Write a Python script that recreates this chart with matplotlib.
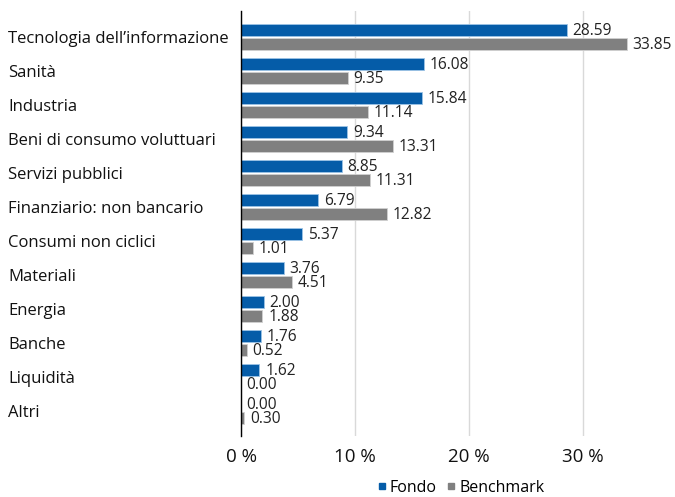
import matplotlib
matplotlib.use("Agg")
import matplotlib.pyplot as plt
from matplotlib.lines import Line2D
import numpy as np

categories = ["Tecnologia dell\u2019informazione", "Sanità", "Industria",
              "Beni di consumo voluttuari", "Servizi pubblici",
              "Finanziario: non bancario", "Consumi non ciclici", "Materiali",
              "Energia", "Banche", "Liquidità", "Altri"]
fondo = [28.59, 16.08, 15.84, 9.34, 8.85, 6.79, 5.37, 3.76, 2.00, 1.76, 1.62, 0.00]
benchmark = [33.85, 9.35, 11.14, 13.31, 11.31, 12.82, 1.01, 4.51, 1.88, 0.52, 0.00, 0.30]
xticks = [0, 10, 20, 30]
xticklabels = ["0 %", "10 %", "20 %", "30 %"]

plt.rcParams['font.family'] = ['Open Sans', 'DejaVu Sans']
blue = "#055ca8"
gray = "#808080"

W, H = 675, 497
fig = plt.figure(figsize=(6.75, 4.97), dpi=100)
ax = fig.add_axes([241 / W, 1 - 436 / H, (640 - 241) / W, (436 - 11) / H])

y = np.arange(len(categories))
h = 0.37
off = 0.21
ax.barh(y - off, fondo, height=h, color=blue, edgecolor="#9cc3e6", linewidth=0.6, zorder=3)
ax.barh(y + off, benchmark, height=h, color=gray, edgecolor="#d0d0d0", linewidth=0.6, zorder=3)

for yi, v in zip(y, fondo):
    ax.text(v + 0.5, yi - off + 0.02, f"{v:.2f}", va="center", ha="left", fontsize=11.2, color="#222222")
for yi, v in zip(y, benchmark):
    ax.text(v + 0.5, yi + off + 0.03, f"{v:.2f}", va="center", ha="left", fontsize=11.2, color="#222222")

ax.set_ylim(11.735, -0.765)
ax.set_xlim(0, 35)
ax.set_yticks(y)
ax.set_yticklabels(categories, fontsize=12, color="#111111")
for lab in ax.get_yticklabels():
    lab.set_horizontalalignment("left")
ax.set_xticks(xticks)
ax.set_xticklabels(xticklabels, fontsize=13.5, color="#111111")
ax.tick_params(axis="both", length=0)
ax.tick_params(axis="y", pad=(241 - 8) * 0.72)
ax.tick_params(axis="x", pad=9)
ax.grid(axis="x", color="#d9d9d9", linewidth=1, zorder=0)
ax.set_axisbelow(True)
for s in ["top", "right", "bottom"]:
    ax.spines[s].set_visible(False)
ax.spines["left"].set_color("#000000")
ax.spines["left"].set_linewidth(1)
ax.spines["left"].set_zorder(4)

handles = [Line2D([], [], marker="s", linestyle="", color=blue, markersize=4),
           Line2D([], [], marker="s", linestyle="", color=gray, markersize=4)]
fig.legend(handles, ["Fondo", "Benchmark"], loc="center", bbox_to_anchor=(460 / W, 1 - 488 / H),
           ncol=2, frameon=False, fontsize=11.5, handletextpad=0.1, columnspacing=0.5,
           handlelength=0.8, borderpad=0)

fig.savefig("out.png", dpi=100)
